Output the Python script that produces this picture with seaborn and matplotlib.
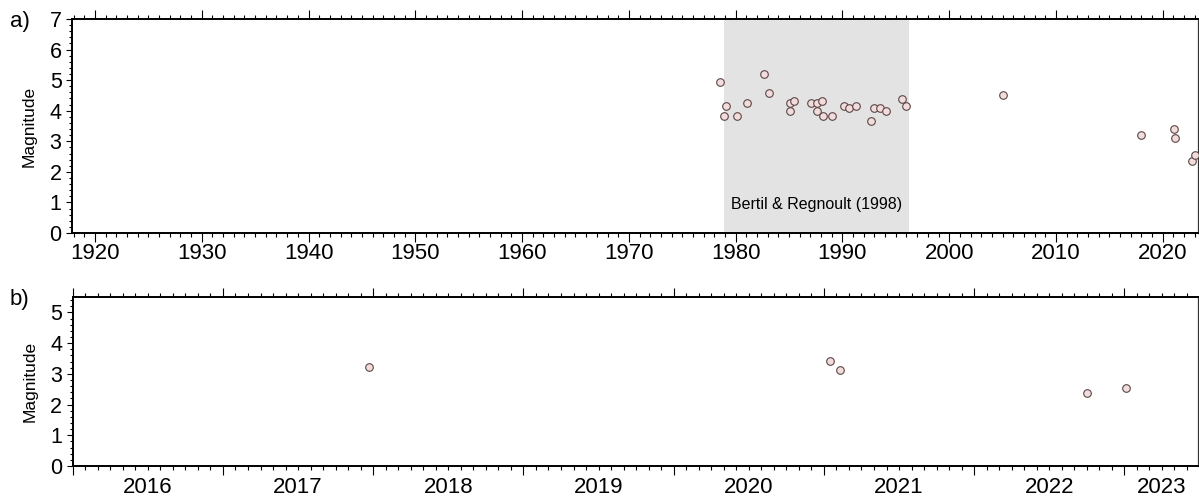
import matplotlib
matplotlib.use('Agg')
import matplotlib.pyplot as plt
import matplotlib.transforms as mtransforms
import numpy as np
import pandas as pd
import seaborn as sns
from matplotlib.ticker import MultipleLocator, NullFormatter

# event catalogue (decimal year, magnitude)
years = [1978.51, 1978.91, 1979.10, 1980.16, 1981.09, 1982.69, 1983.13, 1985.12, 1985.12, 1985.50,
         1987.03, 1987.59, 1987.62, 1988.12, 1988.21, 1989.00, 1990.12, 1990.65, 1991.30, 1992.68,
         1992.99, 1993.55, 1994.06, 1995.56, 1995.96, 2005.07,
         2017.97, 2021.04, 2021.11, 2022.75, 2023.01]
mags = [4.93, 3.83, 4.16, 3.83, 4.24, 5.19, 4.59, 3.99, 4.24, 4.33,
        4.24, 4.24, 3.99, 4.33, 3.83, 3.83, 4.16, 4.08, 4.16, 3.65,
        4.08, 4.08, 3.99, 4.38, 4.16, 4.50,
        3.21, 3.41, 3.12, 2.37, 2.55]

shade_start, shade_end = 1978.9, 1996.25
shade_label = 'Bertil & Regnoult (1998)'
recent_years = list(range(2016, 2024))

df = pd.DataFrame({'year': years, 'mag': mags})
recent = df[df['year'] >= 2016]

sns.set_style('ticks')
plt.rcParams['font.family'] = ['Liberation Sans', 'DejaVu Sans']
plt.rcParams['text.color'] = 'black'
plt.rcParams['axes.labelcolor'] = 'black'
plt.rcParams['xtick.color'] = 'black'
plt.rcParams['ytick.color'] = 'black'

fill_c = '#f3dcdc'
edge_c = '#5c4646'

fig = plt.figure(figsize=(11.99, 5.0), dpi=100)
ax1 = fig.add_axes([72 / 1199, 1 - 233 / 500, (1198 - 72) / 1199, (233 - 19) / 500])
ax2 = fig.add_axes([72.7 / 1199, 1 - 466 / 500, (1198 - 72.7) / 1199, (466 - 297) / 500])


def frame(ax):
    for side in ['left', 'bottom', 'top']:
        ax.spines[side].set_linewidth(1.4)
        ax.spines[side].set_color('black')
    ax.spines['right'].set_linewidth(0.9)
    ax.spines['right'].set_color('#333333')
    ax.tick_params(axis='x', which='both', direction='out', top=True, bottom=True, labeltop=False,
                   color='black', labelcolor='black', width=0.8)
    ax.tick_params(axis='x', which='major', length=6.5, labelsize=16, pad=1)
    ax.tick_params(axis='x', which='minor', length=3.2)
    ax.tick_params(axis='y', which='both', direction='out', left=True, right=False, color='black',
                   labelcolor='black', width=0.8)
    ax.tick_params(axis='y', which='major', length=4.5, labelsize=15.5, pad=3)
    ax.tick_params(axis='y', which='minor', length=2.5)
    ax.yaxis.set_minor_locator(MultipleLocator(0.2))
    ax.set_xlabel('')
    ax.set_ylabel('Magnitude', fontsize=12.5, labelpad=2, color='black')


# panel a
ax1.axvspan(shade_start, shade_end, color='#e3e3e3', lw=0, zorder=0)
sns.scatterplot(data=df, x='year', y='mag', ax=ax1, s=30, color=fill_c, edgecolor=edge_c,
                linewidth=0.8, zorder=3, legend=False)
ax1.text((shade_start + shade_end) / 2, 0.94, shade_label, ha='center', va='center', fontsize=11.5)
ax1.set_xlim(1917.85, 2023.3)
ax1.set_ylim(0, 7)
ax1.xaxis.set_major_locator(MultipleLocator(10))
ax1.xaxis.set_minor_locator(MultipleLocator(1))
ax1.yaxis.set_major_locator(MultipleLocator(1))
frame(ax1)

# panel b
sns.scatterplot(data=recent, x='year', y='mag', ax=ax2, s=30, color=fill_c, edgecolor=edge_c,
                linewidth=0.8, zorder=3, legend=False)
ax2.set_xlim(2016.0, 2023.49)
ax2.set_ylim(0, 5.5)
ax2.xaxis.set_major_locator(MultipleLocator(1))
ax2.xaxis.set_minor_locator(MultipleLocator(1 / 12))
ax2.xaxis.set_major_formatter(NullFormatter())
ax2.yaxis.set_major_locator(MultipleLocator(1))
frame(ax2)

# year labels sit in the middle of each year interval
trans = mtransforms.blended_transform_factory(ax2.transData, ax2.transAxes)
x_end = ax2.get_xlim()[1]
for yr in recent_years:
    mid = (yr + min(yr + 1, x_end)) / 2
    ax2.text(mid, -0.125, str(yr), transform=trans, ha='center', va='center', fontsize=16)

ax1.yaxis.set_label_coords(-0.031, 0.5)
ax2.yaxis.set_label_coords(-0.031, 0.5)

fig.text(10 / 1199, 1 - 21 / 500, 'a)', fontsize=16, ha='left', va='center')
fig.text(10 / 1199, 1 - 300 / 500, 'b)', fontsize=16, ha='left', va='center')

fig.savefig('out.png', dpi=100)
